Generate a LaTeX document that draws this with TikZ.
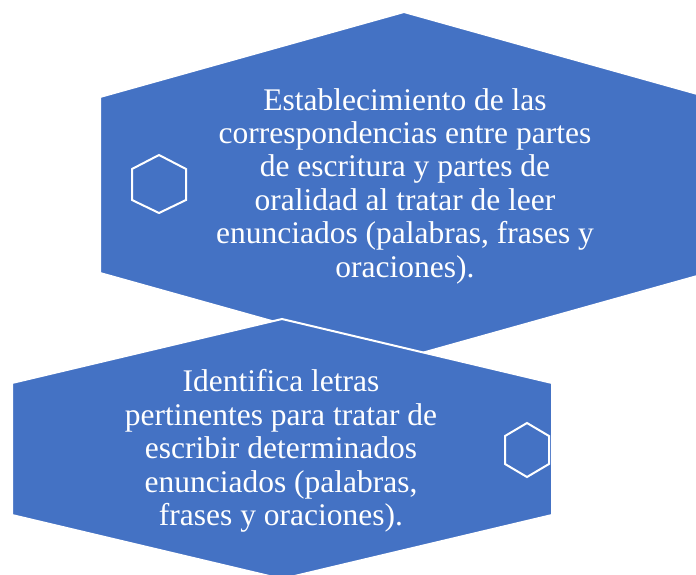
\documentclass[tikz,border=0pt]{standalone}
\usepackage{fontspec}
\setmainfont{Liberation Serif}
\usepackage{tikz}
\usetikzlibrary{positioning}
\definecolor{hexblue}{HTML}{4472C4}
\tikzset{bighex/.style={fill=hexblue, draw=white, line width=2pt}}
\tikzset{smallhex/.style={draw=white, line width=2pt}}
\tikzset{hextext/.style={text=white, align=center, font=\fontsize{31.5}{33.4}\selectfont}}

\begin{document}
\begin{tikzpicture}[x=1pt, y=-1pt]
    \useasboundingbox (0,0) rectangle (696,575);
    \clip (0,0) rectangle (696,575);
    %% Upper hexagon
    \draw [bighex] (404,12) -- (708,97) -- (708,273) -- (404,358) -- (100,273) -- (100,97) -- cycle;
    \draw [smallhex] (159,155) -- (186,169) -- (186,200) -- (159,213) -- (132,200) -- (132,169) -- cycle;
    \node [hextext] (Lectura) at (405,186) {Establecimiento de las\\correspondencias entre partes\\de escritura y partes de\\oralidad al tratar de leer\\enunciados (palabras, frases y\\oraciones).};
    %% Lower hexagon
    \draw [bighex] (282,319) -- (552,383) -- (552,515) -- (282,579) -- (12,515) -- (12,383) -- cycle;
    \draw [smallhex] (527,423) -- (549,436) -- (549,464) -- (527,477) -- (505,464) -- (505,436) -- cycle;
    \node [hextext] (Escritura) at (281,451) {Identifica letras\\pertinentes para tratar de\\escribir determinados\\enunciados (palabras,\\frases y oraciones).};
\end{tikzpicture}
\end{document}
